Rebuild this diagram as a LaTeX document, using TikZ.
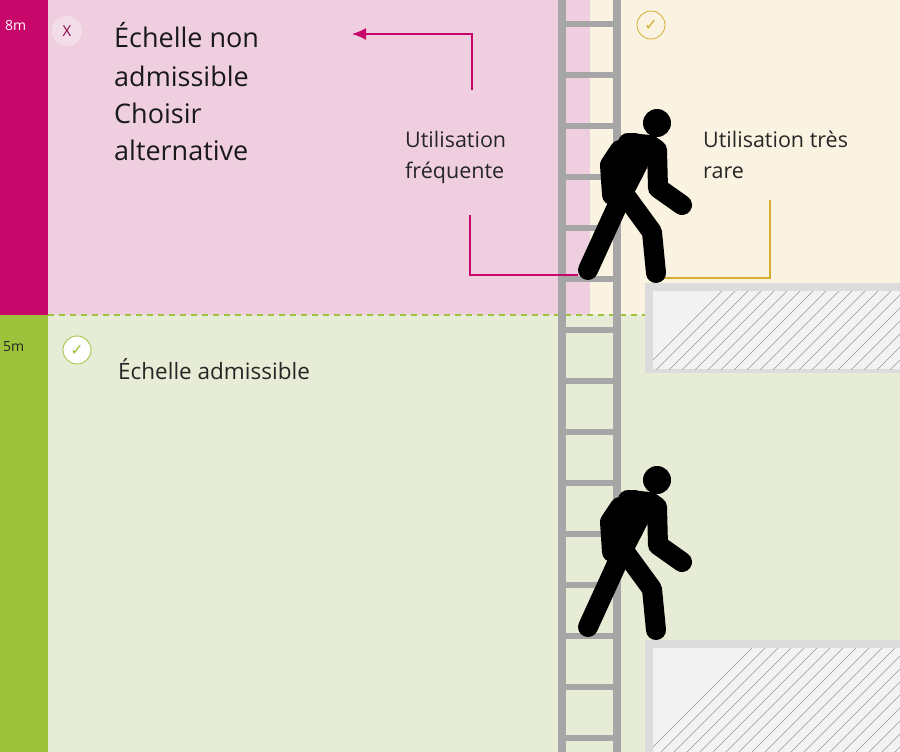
\documentclass[tikz,border=0pt]{standalone}
\usepackage{fontspec}
\setmainfont{Open Sans}
\newfontfamily\symf{DejaVu Sans}
\usetikzlibrary{arrows.meta}
\begin{document}
\begin{tikzpicture}[x=1pt,y=-1pt,
  lbl/.style={anchor=base west,inner sep=0,font=\fontsize{21.5}{24}\selectfont,text=black!85},
  big/.style={anchor=base west,inner sep=0,font=\fontsize{27}{30}\selectfont,text=black!90},
  man/.style={line width=20pt,line cap=round,line join=round,black},
  rung/.style={line width=6pt,ladgray}]
\definecolor{mag}{HTML}{C8076A}
\definecolor{pinkbg}{HTML}{EFCFDF}
\definecolor{cream}{HTML}{FBF3E2}
\definecolor{lgreen}{HTML}{E6ECD6}
\definecolor{gbar}{HTML}{9DC23C}
\definecolor{gold}{HTML}{D4AE2F}
\definecolor{ladgray}{HTML}{A6A6A6}
\definecolor{platb}{HTML}{DCDCDC}
\useasboundingbox (0,0) rectangle (900,752);
% backgrounds
\fill[lgreen] (0,0) rectangle (900,752);
\fill[pinkbg] (48,0) rectangle (590,315);
\fill[cream] (590,0) rectangle (900,315);
\fill[mag] (0,0) rectangle (48,315);
\fill[gbar] (0,315) rectangle (48,752);
\draw[gbar,line width=2pt,dash pattern=on 6pt off 5pt] (48,315) -- (645,315);
% platforms
\foreach \ya/\yb in {283/373,640/760}{
  \fill[platb] (645,\ya) rectangle (900,\yb);
  \fill[black!5] (653,\ya+8) rectangle (900,\yb-4);
  \begin{scope}
    \clip (653,\ya+8) rectangle (900,\yb-4);
    \foreach \k in {0,...,30}{
      \draw[black!40,line width=0.6pt] (640+\k*13,\yb) -- (640+\k*13+130,\yb-130);
    }
  \end{scope}
}
% ladder
\foreach \i in {0,...,14}{ \draw[rung] (562,24+\i*51) -- (617,24+\i*51); }
\fill[ladgray] (558,0) rectangle (566,752);
\fill[ladgray] (613,0) rectangle (621,752);
% annotation lines
\coordinate (fa) at (470,215); \coordinate (fb) at (470,275); \coordinate (fc) at (578,275);
\draw[mag,line width=1.5pt] (fa) -- (fb) -- (fc);
\coordinate (aa) at (472,90); \coordinate (ab) at (472,34); \coordinate (ac) at (352,34);
\draw[mag,line width=1.5pt,-{Latex[length=14pt,width=12pt]}] (aa) -- (ab) -- (ac);
\coordinate (ga) at (770,200); \coordinate (gb) at (770,278); \coordinate (gc) at (663,278);
\draw[gold,line width=1.5pt] (ga) -- (gb) -- (gc);
% men
\foreach \dy in {0,357}{
  \begin{scope}[yshift=-\dy]
    \fill[black] (657,123) circle (14);
    \fill[black,rounded corners=4pt] (612,150) -- (632,132) -- (660,140) -- (645,172) -- (628,205) -- (606,200) -- cycle;
    \draw[man] (628,143) -- (650,145) -- (657,150) -- (658,188) -- (682,205);
    \draw[man] (620,150) -- (610,165) -- (612,195);
    \draw[man] (640,150) -- (620,200) -- (588,270);
    \draw[man] (625,195) -- (652,232) -- (656,273);
  \end{scope}
}
% markers
\node[circle,draw=gold,line width=0.8pt,minimum size=28pt,inner sep=0,text=gold,font=\symf\fontsize{16}{16}\selectfont] (ck1) at (651,25) {✓};
\node[circle,draw=gbar,fill=white,line width=0.8pt,minimum size=28pt,inner sep=0,text=gbar,font=\symf\fontsize{16}{16}\selectfont] (ck2) at (77,350) {✓};
\node[circle,fill=white,fill opacity=0.3,text opacity=1,minimum size=30pt,inner sep=0,text=mag!70!black,font=\fontsize{15}{15}\selectfont] (x1) at (67,31) {X};
\node[anchor=base west,inner sep=0,text=white,font=\fontsize{14}{14}\selectfont] (m8) at (5,31) {8m};
\node[anchor=base west,inner sep=0,text=black!85,font=\fontsize{14}{14}\selectfont] (m5) at (3,351) {5m};
% texts
\node[big] (t1a) at (114,48) {Échelle non};
\node[big] (t1b) at (114,86) {admissible};
\node[big] (t1c) at (114,123) {Choisir};
\node[big] (t1d) at (114,160) {alternative};
\node[lbl] (t2) at (405,147) {Utilisation};
\node[lbl] (t3) at (405,178) {fréquente};
\node[lbl] (t4) at (703,147) {Utilisation très};
\node[lbl] (t5) at (703,178) {rare};
\node[lbl,font=\fontsize{22.5}{24}\selectfont] (t6) at (118,379) {Échelle admissible};
\end{tikzpicture}
\end{document}
